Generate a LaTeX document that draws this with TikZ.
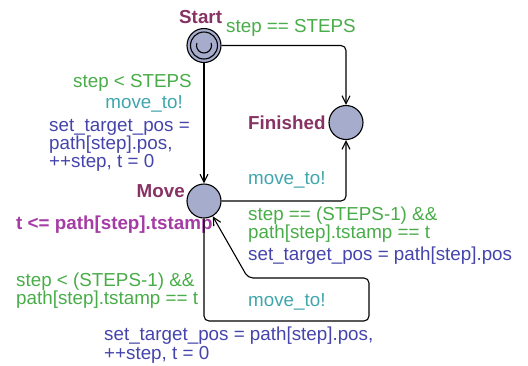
\documentclass[tikz,border=0pt]{standalone}
\usepackage{fontspec}
\setmainfont{Liberation Sans}
\usetikzlibrary{arrows.meta}
\definecolor{guardc}{RGB}{72,172,72}
\definecolor{syncc}{RGB}{64,166,172}
\definecolor{assignc}{RGB}{68,68,172}
\definecolor{namec}{RGB}{136,50,100}
\definecolor{invc}{RGB}{165,60,165}
\definecolor{locfill}{RGB}{166,173,204}
\tikzset{
  loc/.style={circle, draw=black, fill=locfill, minimum size=34pt, inner sep=0pt, line width=1.1pt},
  edge/.style={draw=black, line width=1.1pt, rounded corners=5pt, -{Straight Barb[length=8pt,width=8pt]}},
  lbl/.style={inner sep=0pt, font=\fontsize{18.8}{18}\selectfont},
  lname/.style={lbl, text=namec, font=\fontsize{18.8}{18}\selectfont\bfseries},
  linv/.style={lbl, text=invc, font=\fontsize{18.8}{18}\selectfont\bfseries},
  lguard/.style={lbl, text=guardc},
  lsync/.style={lbl, text=syncc},
  lassign/.style={lbl, text=assignc},
}
\begin{document}
\begin{tikzpicture}[x=1pt,y=-1pt]
\useasboundingbox (0,0) rectangle (528,365);
% locations
\node[loc] (Start) at (204,45.5) {};
\draw[line width=1.1pt] (Start.center) circle[radius=13.5];
\draw[line width=1.1pt] (Start.center) ++(200:7.5) arc[start angle=200, end angle=-20, radius=7.5];
\node[loc] (Fin) at (346,122.5) {};
\node[loc] (Move) at (204,201) {};
% location names
\node[lname, anchor=base west] (nStart) at (179,23) {Start};
\node[lname, anchor=base west] (nFin) at (248,129) {Finished};
\node[lname, anchor=base east] (nMove) at (185,197) {Move};
\node[linv, anchor=base west] (iMove) at (16,229) {t <= path[step].tstamp};
% loop corner points
\coordinate (l1) at (204,321);
\coordinate (l2) at (369,321);
\coordinate (l3) at (369,278);
\coordinate (l4) at (248,278);
% edges
\draw[edge] (Start) -| (Fin);
\draw[edge] (Start) -- (Move);
\draw[edge] (Move) -| (Fin);
\draw[edge] (Move) -- (l1) -- (l2) -- (l3) -- (l4) -- (Move);
% Start -> Finished
\node[lguard, anchor=base west] (g1) at (226,32) {step == STEPS};
% Start -> Move
\node[lguard, anchor=base east] (g2) at (192,87) {step < STEPS};
\node[lsync, anchor=base east] (s2) at (183,108) {move\_to!};
\node[lassign, anchor=base west] (a2a) at (49,131) {set\_target\_pos =};
\node[lassign, anchor=base west] (a2b) at (49,149) {path[step].pos,};
\node[lassign, anchor=base west] (a2c) at (49,167) {++step, t = 0};
% Move -> Finished
\node[lsync, anchor=base west] (s3) at (248,184) {move\_to!};
\node[lguard, anchor=base west] (g3a) at (248,220) {step == (STEPS-1) \&\&};
\node[lguard, anchor=base west] (g3b) at (248,238) {path[step].tstamp == t};
\node[lassign, anchor=base west] (a3) at (248,260) {set\_target\_pos = path[step].pos};
% Move loop
\node[lguard, anchor=base west] (g4a) at (16,286) {step < (STEPS-1) \&\&};
\node[lguard, anchor=base west] (g4b) at (16,304) {path[step].tstamp == t};
\node[lsync, anchor=base west] (s4) at (248,306) {move\_to!};
\node[lassign, anchor=base west] (a4a) at (104,340) {set\_target\_pos = path[step].pos,};
\node[lassign, anchor=base west] (a4b) at (104,359) {++step, t = 0};
\end{tikzpicture}
\end{document}
